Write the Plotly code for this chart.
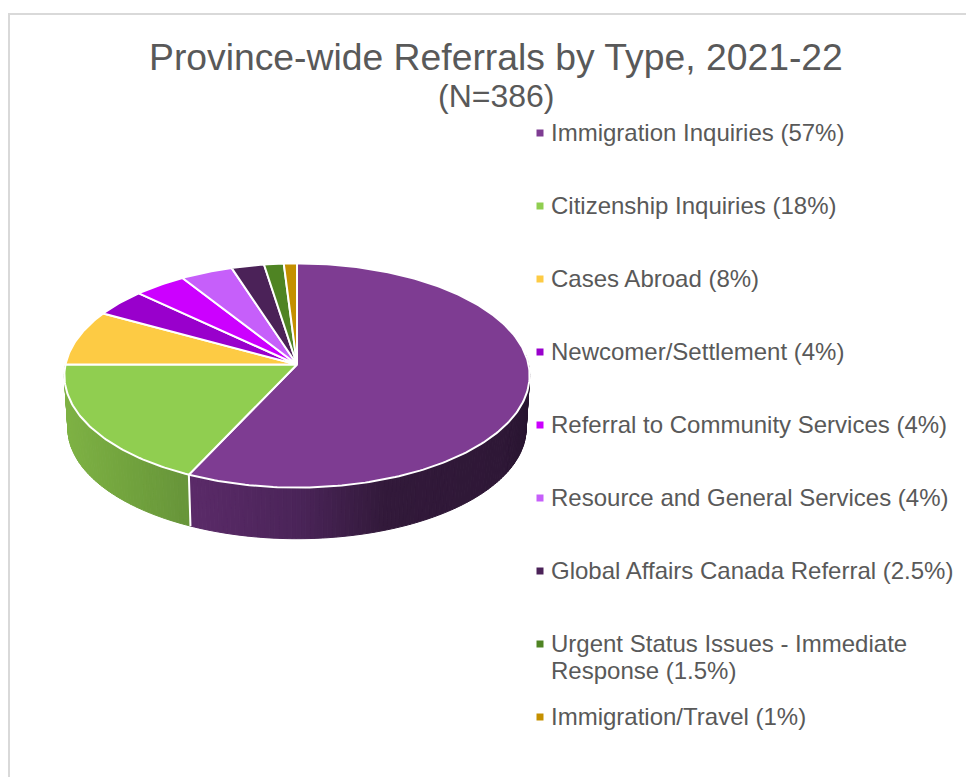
import numpy as np
import plotly.graph_objects as go

# Referral types and their share of the total, in percent
categories = [
    "Immigration Inquiries",
    "Citizenship Inquiries",
    "Cases Abroad",
    "Newcomer/Settlement",
    "Referral to Community Services",
    "Resource and General Services",
    "Global Affairs Canada Referral",
    "Urgent Status Issues - Immediate<br>Response",
    "Immigration/Travel",
]
shares = [57, 18, 8, 4, 4, 4, 2.5, 1.5, 1]
share_labels = ["57%", "18%", "8%", "4%", "4%", "4%", "2.5%", "1.5%", "1%"]
colors = ["#7E3C92", "#90CE50", "#FDCB44", "#9900CC", "#CC00FF",
          "#C65FFA", "#4B2258", "#4F8423", "#C49000"]
legend_rows = [133, 206, 279, 352, 425, 498, 571, 644, 717]

TITLE = "Province-wide Referrals by Type, 2021-22"
SUBTITLE = "(N=386)"
TEXT = "#595959"
LINE_STEP = 27

# Perspective model of the disc, expressed in page pixels
CX, CY = 297.0, 364.5
A, B, K = 231.5, 111.0, 0.098
DEPTH, BASE_SCALE = 53.0, 0.985

# Side-wall shading: (x, colour) stops running left to right
SIDE_SHADES = {
    0: [(181, (92, 43, 106)), (300, (74, 36, 88)), (385, (50, 25, 58)),
        (500, (46, 23, 54)), (529, (40, 20, 48))],
    1: [(65, (126, 178, 68)), (120, (115, 165, 62)), (181, (104, 150, 58))],
}


def project(turn, scale=1.0, drop=0.0):
    """Map an angle (radians clockwise from the far point) onto the page."""
    u, v = np.sin(turn), -np.cos(turn)
    denom = 1 - K * v
    return CX + scale * A * u / denom, CY + drop + scale * B * v / denom


def shade(stops, x):
    xs = [s[0] for s in stops]
    return "rgb({:.0f},{:.0f},{:.0f})".format(
        *[np.interp(x, xs, [s[1][i] for s in stops]) for i in range(3)]
    )


edges = np.cumsum([0] + shares) / sum(shares) * 2 * np.pi
fig = go.Figure()

# Card outline behind the chart
fig.add_shape(type="rect", x0=9, y0=14, x1=1000, y1=800,
              line=dict(color="#D9D9D9", width=2), fillcolor="white", layer="below")

# Side wall: narrow vertical strips for the two front-facing slices
for idx, stops in SIDE_SHADES.items():
    start = max(edges[idx], np.radians(85))
    end = min(edges[idx + 1], np.radians(275))
    cuts = np.linspace(start, end, max(int(np.degrees(end - start)), 2) + 1)
    for a, b in zip(cuts[:-1], cuts[1:]):
        tx, ty = project(np.array([a, b]))
        bx, by = project(np.array([b, a]), BASE_SCALE, DEPTH)
        col = shade(stops, (tx.mean() + bx.mean()) / 2)
        fig.add_trace(go.Scatter(
            x=[*tx, *bx, tx[0]], y=[*ty, *by, ty[0]], mode="lines", fill="toself",
            fillcolor=col, line=dict(color=col, width=1), hoverinfo="skip",
        ))

# White seam down the wall where the two front slices meet
seam_x, seam_y = zip(project(edges[1]), project(edges[1], BASE_SCALE, DEPTH))
fig.add_trace(go.Scatter(x=seam_x, y=seam_y, mode="lines",
                         line=dict(color="white", width=2), hoverinfo="skip"))

# Top face, one filled wedge per category
for i, name in enumerate(categories):
    turns = np.linspace(edges[i], edges[i + 1], max(int(shares[i] * 4), 6))
    ax, ay = project(turns)
    fig.add_trace(go.Scatter(
        x=[CX, *ax, CX], y=[CY, *ay, CY], mode="lines", fill="toself",
        fillcolor=colors[i], line=dict(color="white", width=2),
        name=name, hoverinfo="name",
    ))

# Legend rows: square keys plus left-aligned labels, with wrapped lines stepped by hand
fig.add_trace(go.Scatter(
    x=[540] * len(categories), y=legend_rows, mode="markers",
    marker=dict(symbol="square", size=7, color=colors), hoverinfo="skip",
))
for name, pct, row in zip(categories, share_labels, legend_rows):
    for n, line in enumerate(f"{name} ({pct})".split("<br>")):
        fig.add_annotation(x=548.5, y=row - 1 + n * LINE_STEP, xref="x", yref="y", text=line,
                           showarrow=False, xanchor="left", yanchor="middle", align="left",
                           font=dict(family="Liberation Sans", size=24, color=TEXT))

fig.add_annotation(x=495.5, y=57, xref="x", yref="y", text=TITLE, showarrow=False,
                   font=dict(family="Liberation Sans", size=37.3, color=TEXT))
fig.add_annotation(x=496, y=96, xref="x", yref="y", text=SUBTITLE, showarrow=False,
                   font=dict(family="Liberation Sans", size=32, color=TEXT))

fig.update_layout(
    width=966, height=777, margin=dict(l=0, r=0, t=0, b=0),
    paper_bgcolor="white", plot_bgcolor="white", showlegend=False,
    xaxis=dict(range=[0, 966], visible=False, fixedrange=True),
    yaxis=dict(range=[777, 0], visible=False, fixedrange=True),
)
fig.write_html("out.html", config=dict(displayModeBar=False))
